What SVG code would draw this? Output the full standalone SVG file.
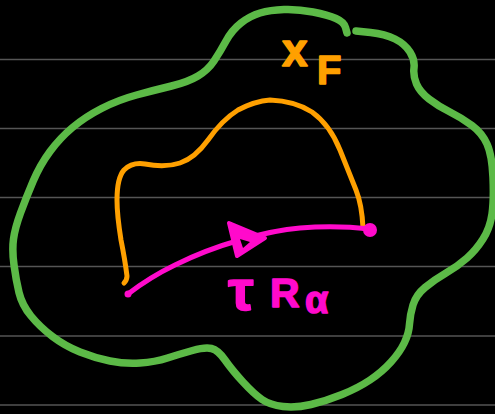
<svg xmlns="http://www.w3.org/2000/svg" width="495" height="414" viewBox="0 0 495 414">
<style>
.rule{stroke:#555555;stroke-width:1.5}
.ink{fill:none;stroke-linecap:round;stroke-linejoin:round}
.green{stroke:#5cba47;stroke-width:7.5}
.orange{stroke:#ffa000;stroke-width:5}
.mag{stroke:#ff0acb;stroke-width:5}
.lbl{font-family:"Liberation Sans","DejaVu Sans",sans-serif;font-weight:bold;stroke-linejoin:round}
.lo{fill:#ffa000;stroke:#ffa000;stroke-width:1.5}
.lm{fill:#ff0acb;stroke:#ff0acb;stroke-width:1.5}
</style>
<rect width="495" height="414" fill="#000000"/>
<g id="rules">
<line class="rule" x1="0" y1="59.5" x2="495" y2="59.5"/>
<line class="rule" x1="0" y1="128.5" x2="495" y2="128.5"/>
<line class="rule" x1="0" y1="197.5" x2="495" y2="197.5"/>
<line class="rule" x1="0" y1="266.5" x2="495" y2="266.5"/>
<line class="rule" x1="0" y1="336" x2="495" y2="336"/>
<line class="rule" x1="0" y1="405" x2="495" y2="405"/>
</g>
<g id="region-XF">
<path class="ink green" d="M356,31 L370.5,32.5 Q385,34 395,39 Q405,44 410,52 Q415,60 414,68 Q413,76 416.5,84 Q420,92 429,99 Q438,106 450,112 Q462,118 472,125.5 Q482,133 487,144 Q492,155 493,177.5 Q494,200 492,214 Q490,228 483,239 Q476,250 467,258 Q458,266 446,273 Q434,280 425,287.5 Q416,295 413,305 Q410,315 409.5,324 Q409,333 404.5,342.5 Q400,352 391,362 Q382,372 370,380 Q358,388 342,394.5 Q326,401 311,404.5 Q296,408 283,406.5 Q270,405 262,399.5 Q254,394 243,382 Q232,370 225,360 Q218,350 211.5,348.5 Q205,347 192.5,350.5 Q180,354 167.5,358 Q155,362 140,363 Q125,364 110,361 Q95,358 80,352 Q65,346 52.5,336.5 Q40,327 31,316 Q22,305 19,292.5 Q16,280 14,265 Q12,250 13.5,239 Q15,228 20.5,213 Q26,198 33,181.5 Q40,165 50,151.5 Q60,138 72.5,127.5 Q85,117 101.5,108.5 Q118,100 136.5,95 Q155,90 171.5,86 Q188,82 198,76 Q208,70 214,61 Q220,52 226,41 Q232,30 241,23 Q250,16 260,13 Q270,10 284,9.5 Q298,9 313,12 Q328,15 336,18.5 Q344,22 345.5,27.5 L347,33"/>
<text class="lbl lo" x="282" y="66" font-size="46">x</text>
<text class="lbl lo" x="317" y="84" font-size="40">F</text>
</g>
<g id="orange-path">
<path class="ink orange" d="M124,283 Q127,280 127,276 Q125,260 121,240 Q117,215 117,200 Q117,178 124,170 Q132,162 145,164 Q165,168 180,163 Q195,158 208,140 Q222,120 238,110 Q255,101 270,100 Q295,101 312,112 Q330,125 340,150 Q350,175 356,190 Q362,205 363,228"/>
</g>
<g id="connectors">
<path class="ink mag" d="M128,294 Q150,277 175,265 Q205,250 240,240 Q275,230 300,228 Q335,225 370,229"/>
<circle cx="128" cy="294" r="3.5" fill="#ff0acb"/>
<circle cx="370" cy="230" r="7" fill="#ff0acb"/>
<polygon points="229,223 237,256 265,238" fill="#ff0acb" stroke="#ff0acb" stroke-width="4" stroke-linejoin="round"/>
<polygon points="240,239 243,248 250,242" fill="#000000"/>
</g>
<g id="label-tauR">
<text class="lbl lm" x="228" y="310" font-size="58">τ</text>
<text class="lbl lm" x="270" y="307" font-size="41">R</text>
<text class="lbl lm" x="305" y="313" font-size="38">α</text>
</g>
</svg>
